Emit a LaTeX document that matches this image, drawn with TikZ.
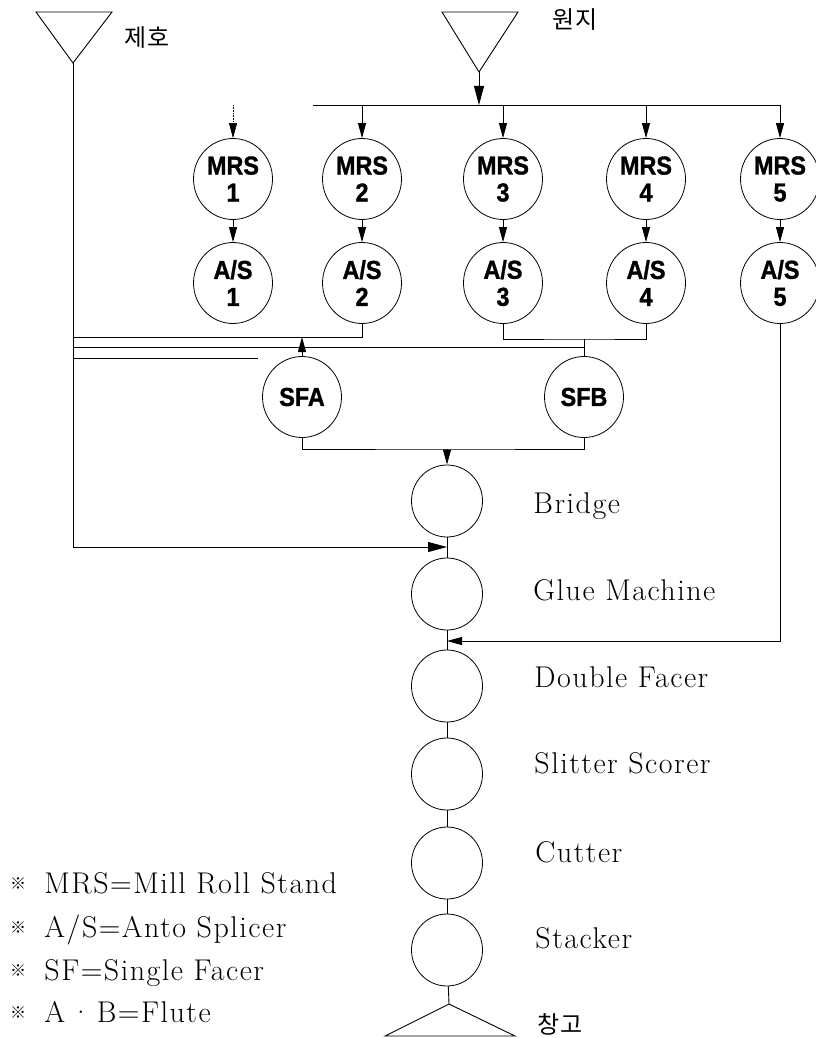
\documentclass[tikz,border=0pt]{standalone}
\usepackage{fontspec}
\usetikzlibrary{shapes.geometric,arrows.meta,calc}
\newfontfamily\krfont{Noto Sans CJK KR}
\newfontfamily\lblfont[LetterSpace=5]{Latin Modern Roman}
\newfontfamily\cfont[FakeStretch=0.9,FakeBold=1.2]{Liberation Sans}
\begin{document}
\begin{tikzpicture}[x=1pt,y=-1pt, line width=0.9pt,
 unit/.style={ellipse, draw, line width=0.8pt, minimum width=79pt, minimum height=81pt, inner sep=0pt, align=center, font=\cfont\bfseries\fontsize{26}{27}\selectfont},
 proc/.style={ellipse, draw, line width=0.8pt, minimum width=71pt, minimum height=72pt, inner sep=0pt},
 arr/.style={-{Triangle[length=15pt,width=8pt]}},
 bigarr/.style={-{Triangle[length=19pt,width=10pt]}},
 lbl/.style={font=\lblfont\fontsize{30}{32}\selectfont, inner sep=0pt, anchor=base west},
 kr/.style={font=\krfont\fontsize{24}{26}\selectfont, inner sep=0pt}]
\useasboundingbox (0,0) rectangle (815,1038);

% sources
\coordinate (jh) at (73,63);
\draw (36,12) -- (112,12) -- (jh) -- cycle;
\node[kr] (jhlbl) at (147,38) {제호};
\coordinate (wj) at (479,72);
\draw (442,12) -- (518,12) -- (wj) -- cycle;
\node[kr] (wjlbl) at (575,20) {원지};

% MRS and A/S
\foreach \i/\x in {1/233,2/362,3/503,4/646,5/780}{
  \node[unit] (mrs\i) at (\x,179) {MRS\\\i};
  \node[unit] (as\i) at (\x,283) {A/S\\\i};
  \draw[arr] (mrs\i) -- (as\i);
}

% bus
\coordinate (bl) at (313,105);
\coordinate (br) at (780,105);
\draw[bigarr] (wj) -- (wj |- bl);
\draw (bl) -- (br);
\draw[arr] (br) -- (mrs5.north);
\foreach \i in {2,3,4}{ \draw[arr] (mrs\i.north |- bl) -- (mrs\i.north); }
\coordinate (d1) at (233,105);
\draw[arr, densely dotted, line width=0.6pt] (d1) -- (mrs1.north);

% SF
\node[unit] (sfa) at (302,397) {SFA};
\node[unit] (sfb) at (584,397) {SFB};

% main line
\node[proc] (bridge) at (447,501) {};
\node[proc] (glue) at (447,594) {};
\node[proc] (dfacer) at (447,686) {};
\node[proc] (slit) at (447,774) {};
\node[proc] (cut) at (447,863) {};
\node[proc] (stack) at (447,950) {};
\coordinate (wh) at (449,1004);
\draw (385,1036) -- (wh) -- (515,1036) -- cycle;

\draw (bridge) -- (glue);
\draw (glue) -- (dfacer);
\draw (dfacer) -- (slit);
\draw (slit) -- (cut);
\draw (cut) -- (stack);
\draw (stack) -- (wh);

% 제호 line
\coordinate (bg) at (447,547);
\draw[bigarr] (jh) |- (bg);
\coordinate (L1) at (73,337);
\coordinate (L2) at (73,347);
\coordinate (L3) at (73,358);
\coordinate (L3e) at (258,358);
\draw (as2.south) |- (L1);
\draw[arr] (sfa.north) -- (sfa.north |- L1);
\coordinate (j34) at (584,339);
\draw (as3.south) |- (j34) -| (as4.south);
\draw (j34) -- (sfb.north);
\draw (L2) -- (L2 -| j34);
\draw (L3) -- (L3e);

% SF to bridge
\coordinate (jb) at (447,449);
\draw (sfa.south) |- (jb) -| (sfb.south);
\draw[arr] (jb) -- (bridge.north);

% A/S5 to double facer
\coordinate (gd) at (447,641);
\draw[arr] (as5.south) |- (gd);

% labels
\node[lbl] (t1) at (533,513) {Bridge};
\node[lbl] (t2) at (533,600) {Glue Machine};
\node[lbl] (t3) at (534,687) {Double Facer};
\node[lbl] (t4) at (534,773) {Slitter Scorer};
\node[lbl] (t5) at (535,862) {Cutter};
\node[lbl] (t6) at (535,948) {Stacker};
\node[kr] (t7) at (560,1024) {창고};

% legend
\foreach \y/\t in {893/{MRS=Mill Roll Stand},937/{A/S=Anto Splicer},980/{SF=Single Facer},1022/{A\,·\,B=Flute}}{
  \node[kr, font=\krfont\fontsize{16}{18}\selectfont] at (18,\y-9) {※};
  \node[lbl] at (44,\y) {\t};
}
\end{tikzpicture}
\end{document}
